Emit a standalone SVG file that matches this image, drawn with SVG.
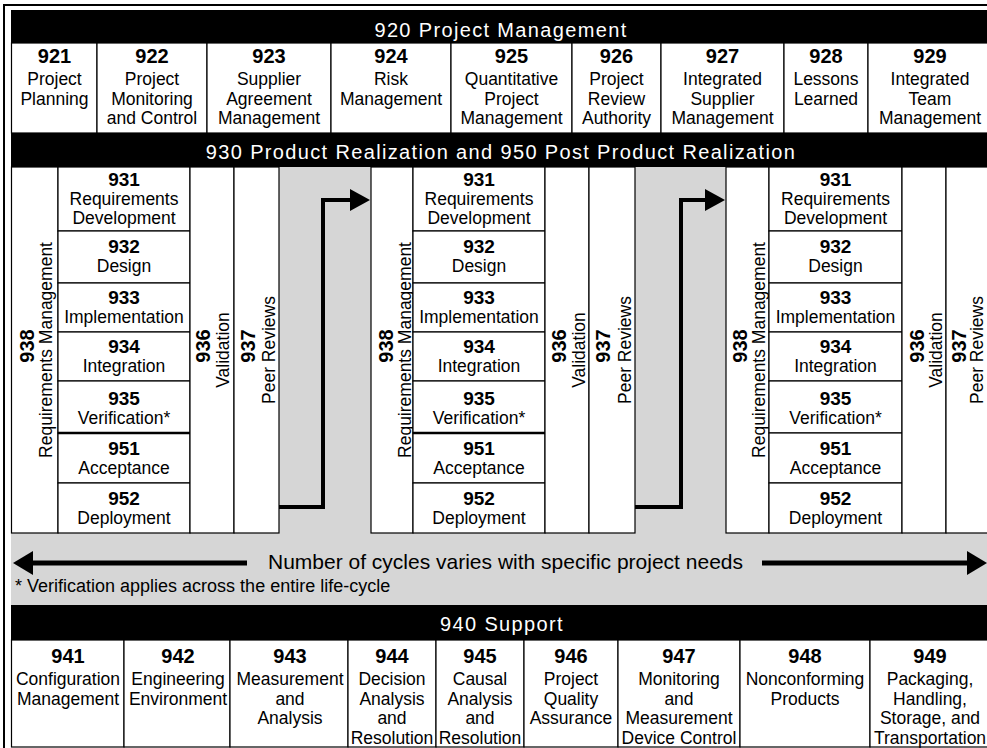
<svg xmlns="http://www.w3.org/2000/svg" width="987" height="748" viewBox="0 0 987 748">
<defs>
<style>
.t{font-family:"Liberation Sans",Arial,sans-serif;font-size:17.5px;fill:#000;text-anchor:middle}
.n{font-family:"Liberation Sans",Arial,sans-serif;font-size:20px;font-weight:bold;fill:#000;text-anchor:middle}
.s{font-family:"Liberation Sans",Arial,sans-serif;font-size:19px;font-weight:bold;fill:#000;text-anchor:middle}
.bt{font-family:"Liberation Sans",Arial,sans-serif;font-size:20px;fill:#fff;text-anchor:middle;letter-spacing:1.35px}
.box{fill:#fff;stroke:#000;stroke-width:1.2}
.band{fill:#000}
.conn{fill:none;stroke:#000;stroke-width:4}
.big{fill:none;stroke:#000;stroke-width:5}
.note{font-family:"Liberation Sans",Arial,sans-serif;font-size:18px;fill:#000}
.cyc{font-family:"Liberation Sans",Arial,sans-serif;font-size:21px;fill:#000;text-anchor:middle}
</style>
<marker id="ah" viewBox="0 0 20 22" refX="2" refY="11" markerWidth="20" markerHeight="22" markerUnits="userSpaceOnUse" orient="auto">
<path d="M0,0 L20,11 L0,22 Z" fill="#000"/>
</marker>
<marker id="ahb" viewBox="0 0 20 24" refX="2" refY="12" markerWidth="20" markerHeight="24" markerUnits="userSpaceOnUse" orient="auto">
<path d="M0,0 L20,12 L0,24 Z" fill="#000"/>
</marker>
</defs>

<rect x="0" y="0" width="987" height="748" fill="#fff"/>
<path d="M4,748 V5 H987" fill="none" stroke="#000" stroke-width="2"/>
<rect x="11" y="167" width="990" height="438" fill="#d6d6d6"/>

<g id="band-920">
<rect class="band" x="11" y="10" width="990" height="33"/>
<text class="bt" x="501" y="37">920 Project Management</text>
</g>

<g id="n921"><rect class="box" x="11.5" y="43" width="85.5" height="90"/><text class="n" x="54.5" y="63">921</text><text class="t" x="54.5" y="85">Project</text><text class="t" x="54.5" y="104.5">Planning</text></g>
<g id="n922"><rect class="box" x="97" y="43" width="110" height="90"/><text class="n" x="152" y="63">922</text><text class="t" x="152" y="85">Project</text><text class="t" x="152" y="104.5">Monitoring</text><text class="t" x="152" y="124">and Control</text></g>
<g id="n923"><rect class="box" x="207" y="43" width="124" height="90"/><text class="n" x="269" y="63">923</text><text class="t" x="269" y="85">Supplier</text><text class="t" x="269" y="104.5">Agreement</text><text class="t" x="269" y="124">Management</text></g>
<g id="n924"><rect class="box" x="331" y="43" width="120" height="90"/><text class="n" x="391" y="63">924</text><text class="t" x="391" y="85">Risk</text><text class="t" x="391" y="104.5">Management</text></g>
<g id="n925"><rect class="box" x="451" y="43" width="121" height="90"/><text class="n" x="511.5" y="63">925</text><text class="t" x="511.5" y="85">Quantitative</text><text class="t" x="511.5" y="104.5">Project</text><text class="t" x="511.5" y="124">Management</text></g>
<g id="n926"><rect class="box" x="572" y="43" width="89" height="90"/><text class="n" x="616.5" y="63">926</text><text class="t" x="616.5" y="85">Project</text><text class="t" x="616.5" y="104.5">Review</text><text class="t" x="616.5" y="124">Authority</text></g>
<g id="n927"><rect class="box" x="661" y="43" width="123" height="90"/><text class="n" x="722.5" y="63">927</text><text class="t" x="722.5" y="85">Integrated</text><text class="t" x="722.5" y="104.5">Supplier</text><text class="t" x="722.5" y="124">Management</text></g>
<g id="n928"><rect class="box" x="784" y="43" width="84" height="90"/><text class="n" x="826" y="63">928</text><text class="t" x="826" y="85">Lessons</text><text class="t" x="826" y="104.5">Learned</text></g>
<g id="n929"><rect class="box" x="868" y="43" width="130" height="90"/><text class="n" x="930" y="63">929</text><text class="t" x="930" y="85">Integrated</text><text class="t" x="930" y="104.5">Team</text><text class="t" x="930" y="124">Management</text></g>

<g id="band-930">
<rect class="band" x="11" y="133" width="990" height="34"/>
<text class="bt" x="501" y="159">930 Product Realization and 950 Post Product Realization</text>
</g>

<g id="cycle1">
<g id="c1-938"><rect class="box" x="11.5" y="167" width="46.5" height="366"/>
<text class="n" transform="translate(34,346) rotate(-90)">938</text>
<text class="t" transform="translate(52,350) rotate(-90)">Requirements Management</text></g>
<g id="c1-931"><rect class="box" x="58" y="167" width="132" height="64"/><text class="s" x="124" y="186">931</text><text class="t" x="124" y="205">Requirements</text><text class="t" x="124" y="224">Development</text></g>
<g id="c1-932"><rect class="box" x="58" y="231" width="132" height="52"/><text class="s" x="124" y="253">932</text><text class="t" x="124" y="272">Design</text></g>
<g id="c1-933"><rect class="box" x="58" y="283" width="132" height="49"/><text class="s" x="124" y="304">933</text><text class="t" x="124" y="323">Implementation</text></g>
<g id="c1-934"><rect class="box" x="58" y="332" width="132" height="49"/><text class="s" x="124" y="353">934</text><text class="t" x="124" y="372">Integration</text></g>
<g id="c1-935"><rect class="box" x="58" y="381" width="132" height="52"/><text class="s" x="124" y="405">935</text><text class="t" x="124" y="424">Verification*</text></g>
<g id="c1-951"><rect class="box" x="58" y="433" width="132" height="50"/><text class="s" x="124" y="455">951</text><text class="t" x="124" y="474">Acceptance</text></g>
<g id="c1-952"><rect class="box" x="58" y="483" width="132" height="50"/><text class="s" x="124" y="505">952</text><text class="t" x="124" y="524">Deployment</text></g>
<line x1="58" y1="433" x2="190" y2="433" stroke="#000" stroke-width="2.6"/>
<g id="c1-936"><rect class="box" x="190" y="167" width="44" height="366"/>
<text class="n" transform="translate(210,346) rotate(-90)">936</text>
<text class="t" transform="translate(229,350) rotate(-90)">Validation</text></g>
<g id="c1-937"><rect class="box" x="234" y="167" width="45" height="366"/>
<text class="n" transform="translate(255,346) rotate(-90)">937</text>
<text class="t" transform="translate(275,350) rotate(-90)">Peer Reviews</text></g>
</g>

<g id="cycle2">
<g id="c2-938"><rect class="box" x="371" y="167" width="42" height="366"/>
<text class="n" transform="translate(393,346) rotate(-90)">938</text>
<text class="t" transform="translate(411,350) rotate(-90)">Requirements Management</text></g>
<g id="c2-931"><rect class="box" x="413" y="167" width="132" height="64"/><text class="s" x="479" y="186">931</text><text class="t" x="479" y="205">Requirements</text><text class="t" x="479" y="224">Development</text></g>
<g id="c2-932"><rect class="box" x="413" y="231" width="132" height="52"/><text class="s" x="479" y="253">932</text><text class="t" x="479" y="272">Design</text></g>
<g id="c2-933"><rect class="box" x="413" y="283" width="132" height="49"/><text class="s" x="479" y="304">933</text><text class="t" x="479" y="323">Implementation</text></g>
<g id="c2-934"><rect class="box" x="413" y="332" width="132" height="49"/><text class="s" x="479" y="353">934</text><text class="t" x="479" y="372">Integration</text></g>
<g id="c2-935"><rect class="box" x="413" y="381" width="132" height="52"/><text class="s" x="479" y="405">935</text><text class="t" x="479" y="424">Verification*</text></g>
<g id="c2-951"><rect class="box" x="413" y="433" width="132" height="50"/><text class="s" x="479" y="455">951</text><text class="t" x="479" y="474">Acceptance</text></g>
<g id="c2-952"><rect class="box" x="413" y="483" width="132" height="50"/><text class="s" x="479" y="505">952</text><text class="t" x="479" y="524">Deployment</text></g>
<line x1="413" y1="433" x2="545" y2="433" stroke="#000" stroke-width="2.6"/>
<g id="c2-936"><rect class="box" x="545" y="167" width="44" height="366"/>
<text class="n" transform="translate(566,346) rotate(-90)">936</text>
<text class="t" transform="translate(585,350) rotate(-90)">Validation</text></g>
<g id="c2-937"><rect class="box" x="589" y="167" width="46" height="366"/>
<text class="n" transform="translate(610,346) rotate(-90)">937</text>
<text class="t" transform="translate(631,350) rotate(-90)">Peer Reviews</text></g>
</g>

<g id="cycle3">
<g id="c3-938"><rect class="box" x="726" y="167" width="43" height="366"/>
<text class="n" transform="translate(747,346) rotate(-90)">938</text>
<text class="t" transform="translate(765,350) rotate(-90)">Requirements Management</text></g>
<g id="c3-931"><rect class="box" x="769" y="167" width="133" height="64"/><text class="s" x="835.5" y="186">931</text><text class="t" x="835.5" y="205">Requirements</text><text class="t" x="835.5" y="224">Development</text></g>
<g id="c3-932"><rect class="box" x="769" y="231" width="133" height="52"/><text class="s" x="835.5" y="253">932</text><text class="t" x="835.5" y="272">Design</text></g>
<g id="c3-933"><rect class="box" x="769" y="283" width="133" height="49"/><text class="s" x="835.5" y="304">933</text><text class="t" x="835.5" y="323">Implementation</text></g>
<g id="c3-934"><rect class="box" x="769" y="332" width="133" height="49"/><text class="s" x="835.5" y="353">934</text><text class="t" x="835.5" y="372">Integration</text></g>
<g id="c3-935"><rect class="box" x="769" y="381" width="133" height="52"/><text class="s" x="835.5" y="405">935</text><text class="t" x="835.5" y="424">Verification*</text></g>
<g id="c3-951"><rect class="box" x="769" y="433" width="133" height="50"/><text class="s" x="835.5" y="455">951</text><text class="t" x="835.5" y="474">Acceptance</text></g>
<g id="c3-952"><rect class="box" x="769" y="483" width="133" height="50"/><text class="s" x="835.5" y="505">952</text><text class="t" x="835.5" y="524">Deployment</text></g>
<g id="c3-936"><rect class="box" x="902" y="167" width="44" height="366"/>
<text class="n" transform="translate(924,346) rotate(-90)">936</text>
<text class="t" transform="translate(942,350) rotate(-90)">Validation</text></g>
<g id="c3-937"><rect class="box" x="946" y="167" width="50" height="366"/>
<text class="n" transform="translate(966,346) rotate(-90)">937</text>
<text class="t" transform="translate(983,350) rotate(-90)">Peer Reviews</text></g>
</g>

<g id="connectors">
<path class="conn" d="M279,507 H323 V200 H352" marker-end="url(#ah)"/>
<path class="conn" d="M635,507 H681 V200 H707" marker-end="url(#ah)"/>
<path class="big" d="M247,563 H31" marker-end="url(#ahb)"/>
<path class="big" d="M762,563 H969" marker-end="url(#ahb)"/>
</g>

<g id="cycles-note">
<text class="cyc" x="505.5" y="569">Number of cycles varies with specific project needs</text>
</g>
<g id="footnote">
<text class="note" x="15" y="592">* Verification applies across the entire life-cycle</text>
</g>

<g id="band-940">
<rect class="band" x="11" y="605" width="990" height="35"/>
<text class="bt" x="502" y="631">940 Support</text>
</g>

<g id="n941"><rect class="box" x="11.5" y="640" width="112.5" height="107"/><text class="n" x="68" y="663">941</text><text class="t" x="68" y="685">Configuration</text><text class="t" x="68" y="704.5">Management</text></g>
<g id="n942"><rect class="box" x="124" y="640" width="106" height="107"/><text class="n" x="178" y="663">942</text><text class="t" x="178" y="685">Engineering</text><text class="t" x="178" y="704.5">Environment</text></g>
<g id="n943"><rect class="box" x="230" y="640" width="118" height="107"/><text class="n" x="290" y="663">943</text><text class="t" x="290" y="685">Measurement</text><text class="t" x="290" y="704.5">and</text><text class="t" x="290" y="724">Analysis</text></g>
<g id="n944"><rect class="box" x="348" y="640" width="88" height="107"/><text class="n" x="392" y="663">944</text><text class="t" x="392" y="685">Decision</text><text class="t" x="392" y="704.5">Analysis</text><text class="t" x="392" y="724">and</text><text class="t" x="392" y="743.5">Resolution</text></g>
<g id="n945"><rect class="box" x="436" y="640" width="88" height="107"/><text class="n" x="480" y="663">945</text><text class="t" x="480" y="685">Causal</text><text class="t" x="480" y="704.5">Analysis</text><text class="t" x="480" y="724">and</text><text class="t" x="480" y="743.5">Resolution</text></g>
<g id="n946"><rect class="box" x="524" y="640" width="94" height="107"/><text class="n" x="571" y="663">946</text><text class="t" x="571" y="685">Project</text><text class="t" x="571" y="704.5">Quality</text><text class="t" x="571" y="724">Assurance</text></g>
<g id="n947"><rect class="box" x="618" y="640" width="122" height="107"/><text class="n" x="679" y="663">947</text><text class="t" x="679" y="685">Monitoring</text><text class="t" x="679" y="704.5">and</text><text class="t" x="679" y="724">Measurement</text><text class="t" x="679" y="743.5">Device Control</text></g>
<g id="n948"><rect class="box" x="740" y="640" width="130" height="107"/><text class="n" x="805" y="663">948</text><text class="t" x="805" y="685">Nonconforming</text><text class="t" x="805" y="704.5">Products</text></g>
<g id="n949"><rect class="box" x="870" y="640" width="130" height="107"/><text class="n" x="930" y="663">949</text><text class="t" x="930" y="685">Packaging,</text><text class="t" x="930" y="704.5">Handling,</text><text class="t" x="930" y="724">Storage, and</text><text class="t" x="930" y="743.5">Transportation</text></g>
</svg>
